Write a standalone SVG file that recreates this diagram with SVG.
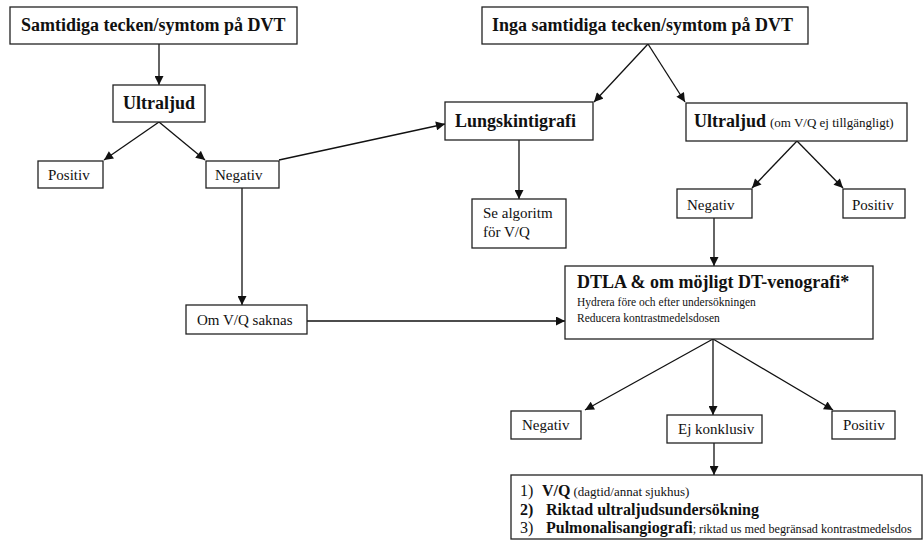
<svg xmlns="http://www.w3.org/2000/svg" width="924" height="541" viewBox="0 0 924 541">
  <style>
    .box { fill: #fff; stroke: #222; stroke-width: 1.3; }
    .edge { fill: none; stroke: #111; stroke-width: 1.3; }
    text { fill: #111; }
    .h { font-weight: bold; font-size: 18px; }
    .n { font-size: 15px; }
    .s { font-size: 11.5px; }
    .p { font-size: 13px; }
    .b16 { font-weight: bold; font-size: 16px; }
    .r16 { font-size: 16px; }
    .s12 { font-size: 12.2px; }
  </style>
  <defs>
    <marker id="arrow" viewBox="0 0 10 10" refX="10" refY="5" markerWidth="10" markerHeight="9" markerUnits="userSpaceOnUse" orient="auto">
      <path d="M0,0 L10,5 L0,10 z" fill="#111"/>
    </marker>
  </defs>

  <g id="connectors">
    <line class="edge" x1="159" y1="44" x2="159" y2="85" marker-end="url(#arrow)"/>
    <line class="edge" x1="159" y1="122" x2="104" y2="160" marker-end="url(#arrow)"/>
    <line class="edge" x1="159" y1="122" x2="205" y2="160" marker-end="url(#arrow)"/>
    <line class="edge" x1="279" y1="160" x2="445" y2="124" marker-end="url(#arrow)"/>
    <line class="edge" x1="648" y1="44" x2="594" y2="102" marker-end="url(#arrow)"/>
    <line class="edge" x1="648" y1="44" x2="685" y2="102" marker-end="url(#arrow)"/>
    <line class="edge" x1="519" y1="140" x2="519" y2="199" marker-end="url(#arrow)"/>
    <line class="edge" x1="797" y1="141" x2="752" y2="188" marker-end="url(#arrow)"/>
    <line class="edge" x1="797" y1="141" x2="843" y2="188" marker-end="url(#arrow)"/>
    <line class="edge" x1="242" y1="188" x2="242" y2="305" marker-end="url(#arrow)"/>
    <line class="edge" x1="714" y1="218" x2="714" y2="266" marker-end="url(#arrow)"/>
    <line class="edge" x1="307" y1="321" x2="565" y2="321" marker-end="url(#arrow)"/>
    <line class="edge" x1="713" y1="339" x2="585" y2="410" marker-end="url(#arrow)"/>
    <line class="edge" x1="713" y1="339" x2="713" y2="415" marker-end="url(#arrow)"/>
    <line class="edge" x1="713" y1="339" x2="833" y2="410" marker-end="url(#arrow)"/>
    <line class="edge" x1="714" y1="443" x2="714" y2="475" marker-end="url(#arrow)"/>
  </g>

  <g font-family="'Liberation Serif', 'DejaVu Serif', serif">
  <g id="dvt-signs">
    <rect class="box" x="10" y="7" width="287" height="37"/>
    <text class="h" x="21" y="31">Samtidiga tecken/symtom på DVT</text>
  </g>
  <g id="ultraljud">
    <rect class="box" x="113" y="85" width="92" height="37"/>
    <text class="h" x="123" y="109">Ultraljud</text>
  </g>
  <g id="positiv-1">
    <rect class="box" x="38" y="161" width="65" height="27"/>
    <text class="n" x="48" y="180">Positiv</text>
  </g>
  <g id="negativ-1">
    <rect class="box" x="206" y="161" width="73" height="27"/>
    <text class="n" x="215" y="180">Negativ</text>
  </g>
  <g id="no-dvt-signs">
    <rect class="box" x="482" y="7" width="326" height="37"/>
    <text class="h" x="492" y="31">Inga samtidiga tecken/symtom på DVT</text>
  </g>
  <g id="lungskintigrafi">
    <rect class="box" x="445" y="102" width="148" height="38"/>
    <text class="h" x="455" y="127">Lungskintigrafi</text>
  </g>
  <g id="ultraljud-2">
    <rect class="box" x="686" y="103" width="221" height="38"/>
    <text x="694" y="127"><tspan class="h">Ultraljud</tspan><tspan class="p" dx="4">(om V/Q ej tillgängligt)</tspan></text>
  </g>
  <g id="se-algoritm">
    <rect class="box" x="472" y="199" width="94" height="49"/>
    <text class="n" x="483" y="218" font-size="15.5">Se algoritm</text>
    <text class="n" x="483" y="237" font-size="15.5">för V/Q</text>
  </g>
  <g id="negativ-2">
    <rect class="box" x="677" y="189" width="75" height="29"/>
    <text class="n" x="687" y="210">Negativ</text>
  </g>
  <g id="positiv-2">
    <rect class="box" x="843" y="189" width="62" height="29"/>
    <text class="n" x="852" y="210">Positiv</text>
  </g>
  <g id="om-vq-saknas">
    <rect class="box" x="186" y="305" width="121" height="29"/>
    <text class="n" x="197" y="325">Om V/Q saknas</text>
  </g>
  <g id="dtla">
    <rect class="box" x="565" y="266" width="308" height="73"/>
    <text class="h" x="577" y="288">DTLA &amp; om möjligt DT-venografi*</text>
    <text class="s" x="577" y="306">Hydrera före och efter undersökningen</text>
    <text class="s" x="577" y="322">Reducera kontrastmedelsdosen</text>
  </g>
  <g id="negativ-3">
    <rect class="box" x="511" y="411" width="70" height="28"/>
    <text class="n" x="522" y="430">Negativ</text>
  </g>
  <g id="ej-konklusiv">
    <rect class="box" x="667" y="415" width="95" height="28"/>
    <text class="n" x="678" y="434" font-size="14">Ej konklusiv</text>
  </g>
  <g id="positiv-3">
    <rect class="box" x="832" y="411" width="63" height="28"/>
    <text class="n" x="843" y="430">Positiv</text>
  </g>
  <g id="next-steps">
    <rect class="box" x="511" y="475" width="411" height="64"/>
    <text x="520" y="496"><tspan class="r16">1)</tspan><tspan class="b16" x="542">V/Q</tspan><tspan class="p" dx="3">(dagtid/annat sjukhus)</tspan></text>
    <text x="520" y="515"><tspan class="b16">2)</tspan><tspan class="b16" x="546">Riktad ultraljudsundersökning</tspan></text>
    <text x="520" y="533"><tspan class="r16">3)</tspan><tspan class="b16" x="546">Pulmonalisangiografi</tspan><tspan class="s12">; riktad us med begränsad kontrastmedelsdos</tspan></text>
  </g>
  </g>
</svg>
